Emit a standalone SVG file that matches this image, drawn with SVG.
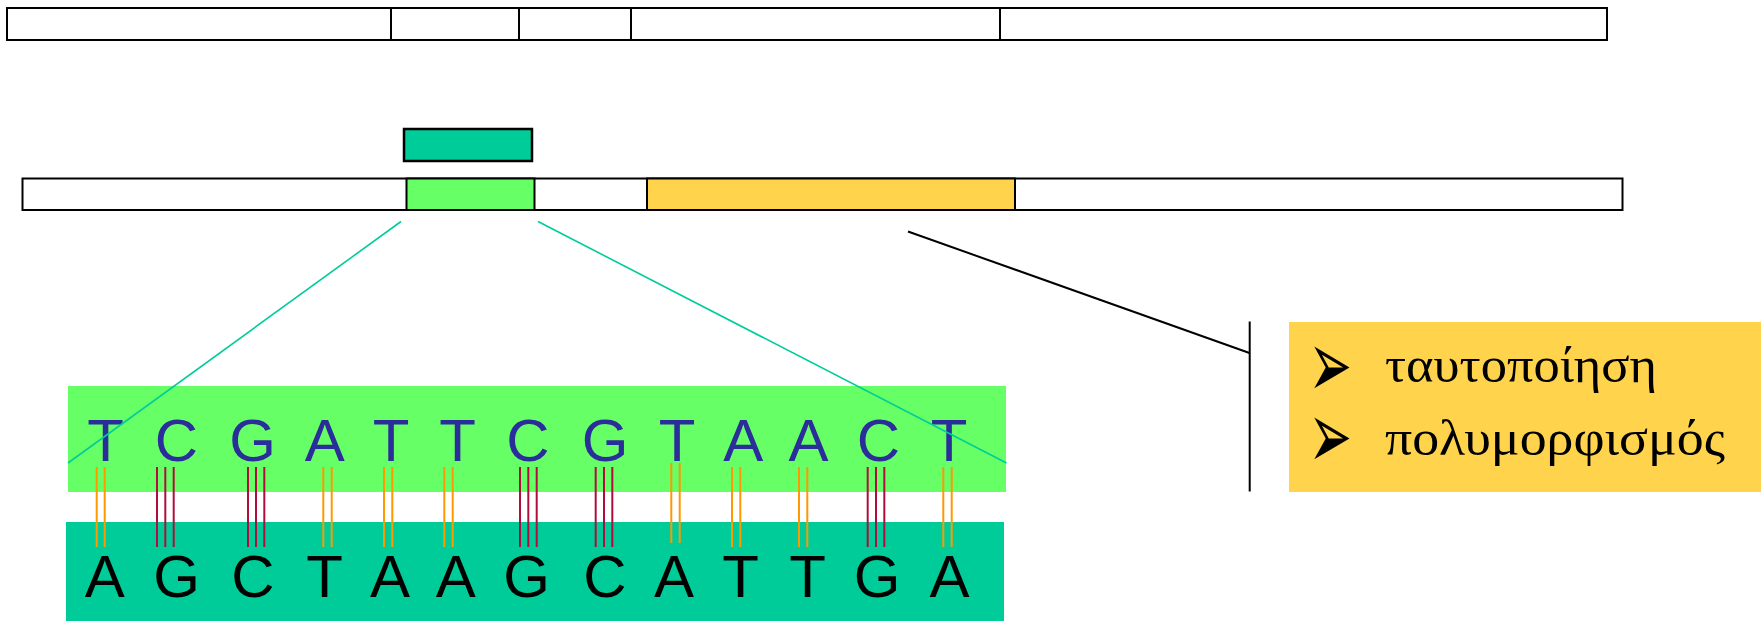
<svg xmlns="http://www.w3.org/2000/svg" width="1761" height="623" viewBox="0 0 1761 623">
  <style>
    .bar { fill: #ffffff; stroke: #000000; stroke-width: 2; }
    .seg { stroke: #000000; stroke-width: 2; }
    .zoom { stroke: #00CC99; stroke-width: 1.6; fill: none; }
    .lead { stroke: #000000; stroke-width: 2; fill: none; }
    .at line { stroke: #FF9900; stroke-width: 2; }
    .gc line { stroke: #B00D3C; stroke-width: 2; }
    .base { font-family: "Liberation Sans", Arial, sans-serif; font-size: 60px; text-anchor: middle; }
    .top { fill: #2B2D9A; }
    .bottom { fill: #000000; }
    .greek { font-family: "Liberation Serif", "DejaVu Serif", serif; font-size: 50px; fill: #000000; }
    .bullet { font-family: "DejaVu Sans", sans-serif; font-size: 50px; fill: #000000; }
  </style>

  <!-- upper sequence map -->
  <g id="map-top">
    <rect class="bar" x="7" y="8" width="1600" height="32"/>
    <line class="seg" x1="391" y1="8" x2="391" y2="40"/>
    <line class="seg" x1="519" y1="8" x2="519" y2="40"/>
    <line class="seg" x1="631" y1="8" x2="631" y2="40"/>
    <line class="seg" x1="1000" y1="8" x2="1000" y2="40"/>
  </g>

  <!-- probe fragment -->
  <g id="probe">
    <rect x="404" y="129" width="128" height="32" fill="#00CC99" stroke="#000000" stroke-width="2.5"/>
  </g>

  <!-- lower sequence map with highlighted regions -->
  <g id="map-bottom">
    <rect class="bar" x="22.5" y="178.5" width="1600" height="31.5"/>
    <rect x="406.5" y="178.5" width="128" height="31.5" fill="#66FF66" stroke="#000000" stroke-width="2"/>
    <rect x="647" y="178.5" width="368" height="31.5" fill="#FFD44C" stroke="#000000" stroke-width="2"/>
  </g>

  <!-- double strand -->
  <g id="strand-top">
    <rect x="68" y="386" width="938" height="106" fill="#66FF66"/>
  </g>
  <g id="strand-bottom">
    <rect x="66" y="522" width="938" height="99" fill="#00CC99"/>
  </g>

  <!-- hydrogen bonds between base pairs -->
  <g id="bonds">
    <g class="at"><line x1="96.7" y1="467" x2="96.7" y2="547"/><line x1="104.7" y1="467" x2="104.7" y2="547"/></g>
    <g class="gc"><line x1="157" y1="467" x2="157" y2="547"/><line x1="165.3" y1="467" x2="165.3" y2="547"/><line x1="173.7" y1="467" x2="173.7" y2="547"/></g>
    <g class="gc"><line x1="248" y1="467" x2="248" y2="547"/><line x1="256" y1="467" x2="256" y2="547"/><line x1="264.3" y1="467" x2="264.3" y2="547"/></g>
    <g class="at"><line x1="323.3" y1="467" x2="323.3" y2="547"/><line x1="331.7" y1="467" x2="331.7" y2="547"/></g>
    <g class="at"><line x1="384" y1="467" x2="384" y2="547"/><line x1="392.3" y1="467" x2="392.3" y2="547"/></g>
    <g class="at"><line x1="444.3" y1="467" x2="444.3" y2="547"/><line x1="452.7" y1="467" x2="452.7" y2="547"/></g>
    <g class="gc"><line x1="520" y1="467" x2="520" y2="547"/><line x1="528.3" y1="467" x2="528.3" y2="547"/><line x1="536.7" y1="467" x2="536.7" y2="547"/></g>
    <g class="gc"><line x1="595.7" y1="467" x2="595.7" y2="547"/><line x1="604" y1="467" x2="604" y2="547"/><line x1="612.3" y1="467" x2="612.3" y2="547"/></g>
    <g class="at"><line x1="671.3" y1="463" x2="671.3" y2="543"/><line x1="679.7" y1="463" x2="679.7" y2="543"/></g>
    <g class="at"><line x1="732" y1="467" x2="732" y2="547"/><line x1="740.3" y1="467" x2="740.3" y2="547"/></g>
    <g class="at"><line x1="799" y1="467" x2="799" y2="547"/><line x1="807.3" y1="467" x2="807.3" y2="547"/></g>
    <g class="gc"><line x1="867.7" y1="467" x2="867.7" y2="547"/><line x1="876" y1="467" x2="876" y2="547"/><line x1="884.3" y1="467" x2="884.3" y2="547"/></g>
    <g class="at"><line x1="943.3" y1="467" x2="943.3" y2="547"/><line x1="951.7" y1="467" x2="951.7" y2="547"/></g>
  </g>

  <!-- bases -->
  <g id="bases-top" class="base top">
    <text x="105.5" y="461">T</text>
    <text x="176.5" y="461">C</text>
    <text x="252.7" y="461">G</text>
    <text x="324.8" y="461">A</text>
    <text x="391" y="461">T</text>
    <text x="457.5" y="461">T</text>
    <text x="528" y="461">C</text>
    <text x="605" y="461">G</text>
    <text x="677.2" y="461">T</text>
    <text x="743.3" y="461">A</text>
    <text x="808.5" y="461">A</text>
    <text x="878.5" y="461">C</text>
    <text x="949" y="461">T</text>
  </g>
  <g id="bases-bottom" class="base bottom">
    <text x="104.8" y="597">A</text>
    <text x="176.5" y="597">G</text>
    <text x="252.8" y="597">C</text>
    <text x="324.6" y="597">T</text>
    <text x="390" y="597">A</text>
    <text x="455.8" y="597">A</text>
    <text x="526.7" y="597">G</text>
    <text x="605" y="597">C</text>
    <text x="673.9" y="597">A</text>
    <text x="740.5" y="597">T</text>
    <text x="807.5" y="597">T</text>
    <text x="877" y="597">G</text>
    <text x="949.5" y="597">A</text>
  </g>

  <!-- uses panel -->
  <g id="uses">
    <rect x="1289" y="322" width="472" height="170" fill="#FFD44C"/>
    <text class="bullet" transform="translate(1308.4,397.4) scale(1.04,1.89)">➢</text>
    <text class="bullet" transform="translate(1308.4,468.3) scale(1.04,1.89)">➢</text>
    <text class="greek" x="1385" y="382" textLength="272" lengthAdjust="spacingAndGlyphs">ταυτοποίηση</text>
    <text class="greek" x="1385" y="455" textLength="340" lengthAdjust="spacingAndGlyphs">πολυμορφισμός</text>
  </g>

  <!-- connectors -->
  <g id="connectors">
    <line class="zoom" x1="401" y1="221.5" x2="68" y2="463"/>
    <line class="zoom" x1="538" y1="221.5" x2="1006.5" y2="463"/>
    <line class="lead" x1="908" y1="231.5" x2="1249.5" y2="353"/>
    <line class="lead" x1="1249.7" y1="321.5" x2="1249.7" y2="491.5"/>
  </g>
</svg>
